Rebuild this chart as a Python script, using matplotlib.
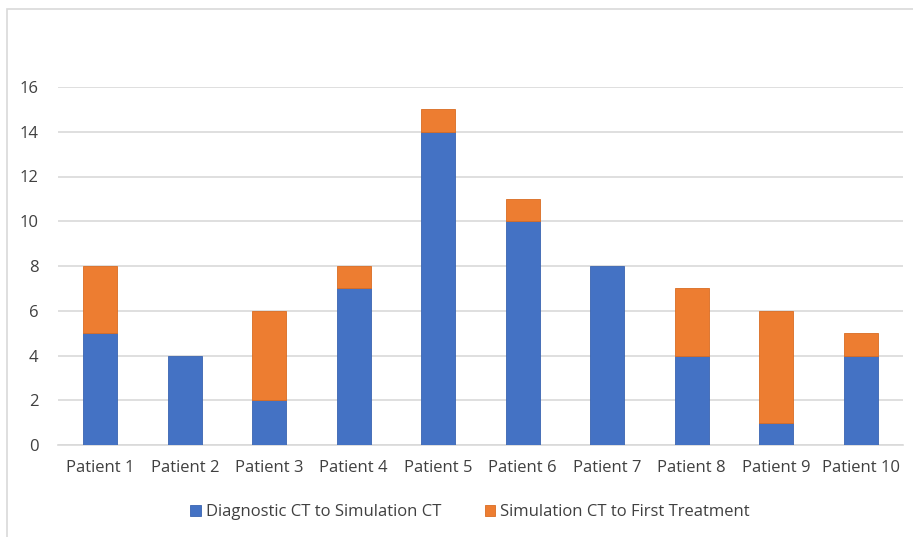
import numpy as np
import matplotlib.pyplot as plt
from matplotlib.patches import Rectangle

plt.rcParams["font.family"] = ["Open Sans", "DejaVu Sans"]

patients = ["Patient 1", "Patient 2", "Patient 3", "Patient 4", "Patient 5",
            "Patient 6", "Patient 7", "Patient 8", "Patient 9", "Patient 10"]
diag_to_sim = [5, 4, 2, 7, 14, 10, 8, 4, 1, 4]
sim_to_treat = [3, 0, 4, 1, 1, 1, 0, 3, 5, 1]
yticks = [0, 2, 4, 6, 8, 10, 12, 14, 16]

blue = "#4472C4"
orange = "#ED7D31"
grid_c = "#D9D9D9"
text_c = "#404040"

fig = plt.figure(figsize=(9.13, 5.37), dpi=100)
W, H = 913, 537
ax = fig.add_axes([58 / W, (H - 445) / H, (903 - 58) / W, (445 - 87) / H])

# outer chart frame
fig.patches.append(Rectangle((7 / W, -0.1), 1.2, (H - 9) / H + 0.1,
                             transform=fig.transFigure, fill=False,
                             edgecolor=grid_c, linewidth=1.2))

x = np.arange(len(patients))
ax.bar(x, diag_to_sim, width=0.4, color=blue, edgecolor="#3A64B0",
       linewidth=0.6, label="Diagnostic CT to Simulation CT", zorder=3)
top = ax.bar(x, sim_to_treat, width=0.4, bottom=diag_to_sim, color=orange,
             edgecolor="#D96C22", linewidth=0.6,
             label="Simulation CT to First Treatment", zorder=3)
for rect, v in zip(top, sim_to_treat):
    if v == 0:
        rect.set_linewidth(0)

ax.set_xlim(-0.5, len(patients) - 0.5)
ax.set_ylim(0, 16)
ax.set_yticks(yticks)
ax.set_xticks(x)
ax.set_xticklabels(patients)
ax.yaxis.grid(True, color=grid_c, linewidth=1.2, zorder=0)
ax.set_axisbelow(True)
for s in ["top", "right", "left"]:
    ax.spines[s].set_visible(False)
ax.spines["bottom"].set_color(grid_c)
ax.spines["bottom"].set_linewidth(1.2)
ax.tick_params(axis="both", length=0, labelsize=12, labelcolor=text_c)
ax.tick_params(axis="y", pad=14)
ax.tick_params(axis="x", pad=11)

leg = fig.legend(loc="center", bbox_to_anchor=(470 / W, (H - 512) / H),
                 ncol=2, frameon=False, fontsize=12, handlelength=0.65,
                 handleheight=0.65, handletextpad=0.3, columnspacing=2.6)
for t in leg.get_texts():
    t.set_color(text_c)

fig.savefig("out.png", dpi=100)
